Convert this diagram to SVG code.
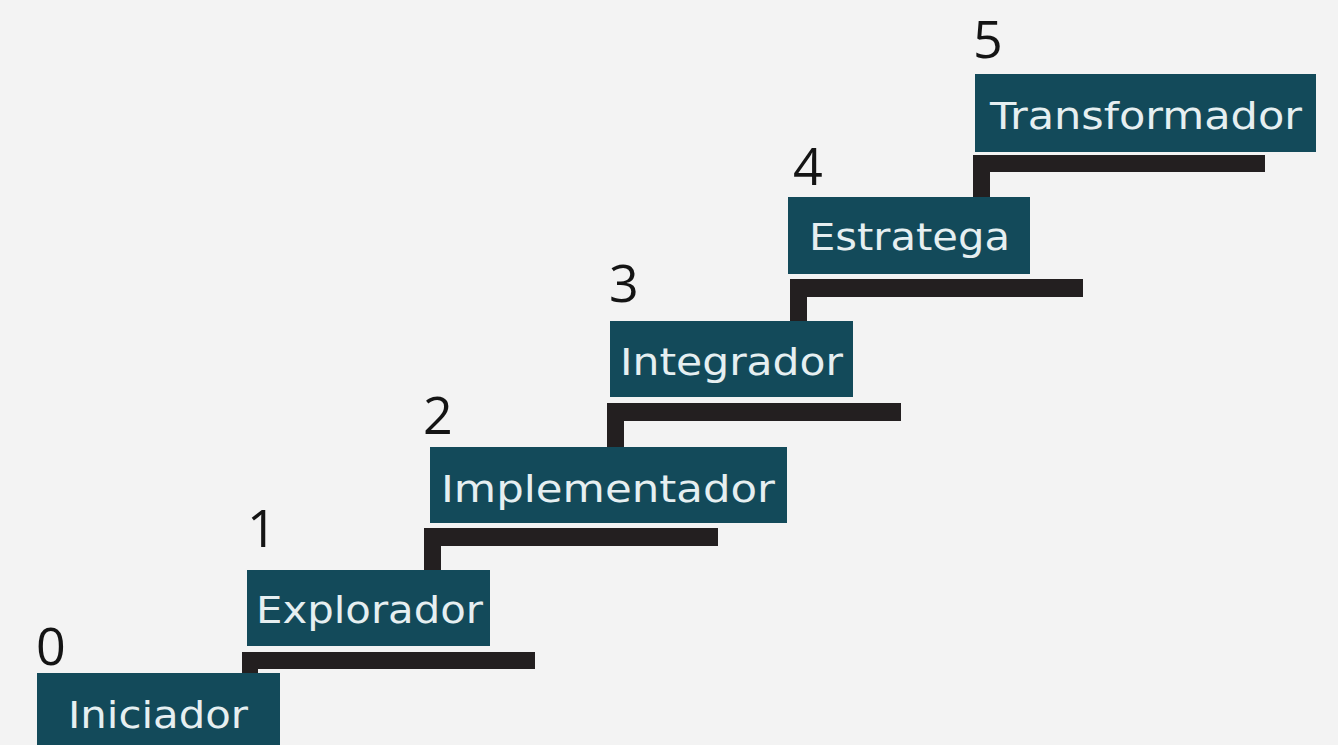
<svg xmlns="http://www.w3.org/2000/svg" width="1338" height="745" viewBox="0 0 1338 745">
<style>
.bg{fill:#f3f3f3}
.box{fill:#134a5a}
.lbl{font-family:"DejaVu Sans","Open Sans",sans-serif;font-size:38px;fill:#e6eff1}
.num{font-family:"Open Sans","Liberation Sans",sans-serif;font-size:52px;fill:#141414}
.step{fill:#231f20}
</style>
<rect class="bg" width="1338" height="745"/>
<g id="connectors">
<path class="step" d="M242 652H535V669H258V673H242Z"/>
<path class="step" d="M424 528H718V546H441V570H424Z"/>
<path class="step" d="M607 403H901V421H624V447H607Z"/>
<path class="step" d="M790 279H1083V297H807V321H790Z"/>
<path class="step" d="M973 155H1265V172H990V197H973Z"/>
</g>
<g id="n0"><text class="num" x="36" y="665">0</text><rect class="box" x="37" y="673" width="243" height="80"/><text class="lbl" x="68" y="728" textLength="180" lengthAdjust="spacingAndGlyphs">Iniciador</text></g>
<g id="n1"><text class="num" x="247" y="547">1</text><rect class="box" x="247" y="570" width="243" height="76"/><text class="lbl" x="256" y="623" textLength="227" lengthAdjust="spacingAndGlyphs">Explorador</text></g>
<g id="n2"><text class="num" x="423" y="434">2</text><rect class="box" x="430" y="447" width="357" height="76"/><text class="lbl" x="441" y="502" textLength="334" lengthAdjust="spacingAndGlyphs">Implementador</text></g>
<g id="n3"><text class="num" x="609" y="302">3</text><rect class="box" x="610" y="321" width="243" height="76"/><text class="lbl" x="620" y="375" textLength="223" lengthAdjust="spacingAndGlyphs">Integrador</text></g>
<g id="n4"><text class="num" x="793" y="185">4</text><rect class="box" x="788" y="197" width="242" height="77"/><text class="lbl" x="809" y="250" textLength="201" lengthAdjust="spacingAndGlyphs">Estratega</text></g>
<g id="n5"><text class="num" x="973" y="58">5</text><rect class="box" x="975" y="74" width="341" height="78"/><text class="lbl" x="990" y="129" textLength="312" lengthAdjust="spacingAndGlyphs">Transformador</text></g>
</svg>
